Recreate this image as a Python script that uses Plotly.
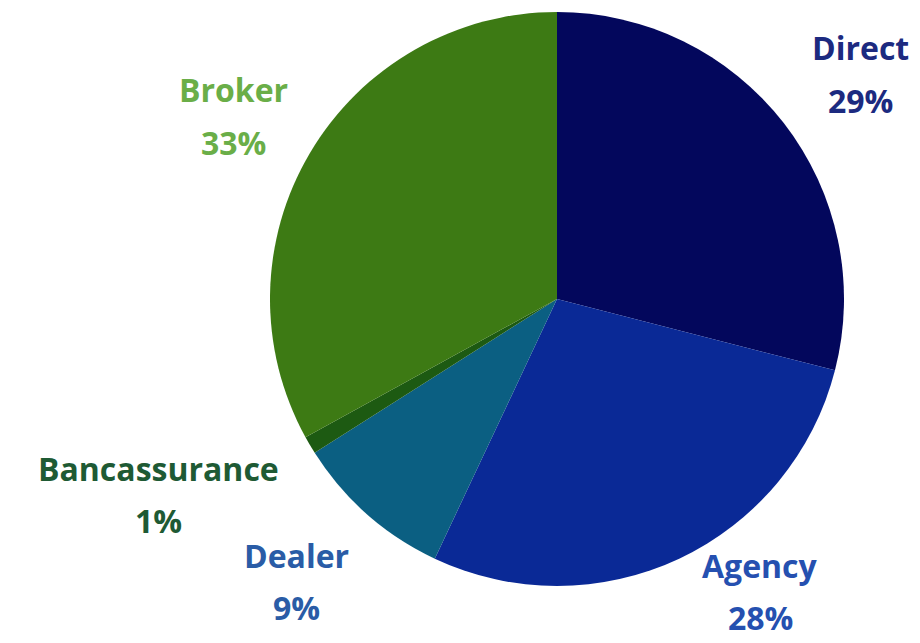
import plotly.graph_objects as go

categories = ["Direct", "Agency", "Dealer", "Bancassurance", "Broker"]
values = [29, 28, 9, 1, 33]
slice_colors = ["#03075c", "#0a2996", "#0b5f82", "#1d5a12", "#3d7a14"]
label_colors = ["#1c2a80", "#2550b0", "#2a5ca6", "#1e5a34", "#6aae48"]

# label anchor positions (pixel centres of the two text lines)
label_pos = {
    "Direct": (852, 40),
    "Agency": (752, 557),
    "Dealer": (288, 547),
    "Bancassurance": (150, 460),
    "Broker": (225, 82),
}

W, H = 920, 643
cx, cy, r = 549, 291, 287

fig = go.Figure(go.Pie(
    labels=categories,
    values=values,
    sort=False,
    direction="clockwise",
    rotation=0,
    marker=dict(colors=slice_colors, line=dict(width=0)),
    textinfo="none",
    hoverinfo="label+percent",
    showlegend=False,
    domain=dict(x=[(cx - r) / W, (cx + r) / W], y=[(H - cy - r) / H, (H - cy + r) / H]),
))

total = sum(values)
annotations = []
for cat, val, col in zip(categories, values, label_colors):
    px, py = label_pos[cat]
    pct = f"{round(val / total * 100)}%"
    for i, txt in enumerate([cat, pct]):
        yy = py + i * 52
        annotations.append(dict(
            x=px / W, y=1 - yy / H, xref="paper", yref="paper",
            text=f"<b>{txt}</b>", showarrow=False,
            xanchor="center", yanchor="middle",
            font=dict(family="Open Sans", size=32, color=col),
        ))

fig.update_layout(
    width=W, height=H,
    margin=dict(l=0, r=0, t=0, b=0),
    paper_bgcolor="white",
    plot_bgcolor="white",
    annotations=annotations,
)

fig.write_html("out.html")
